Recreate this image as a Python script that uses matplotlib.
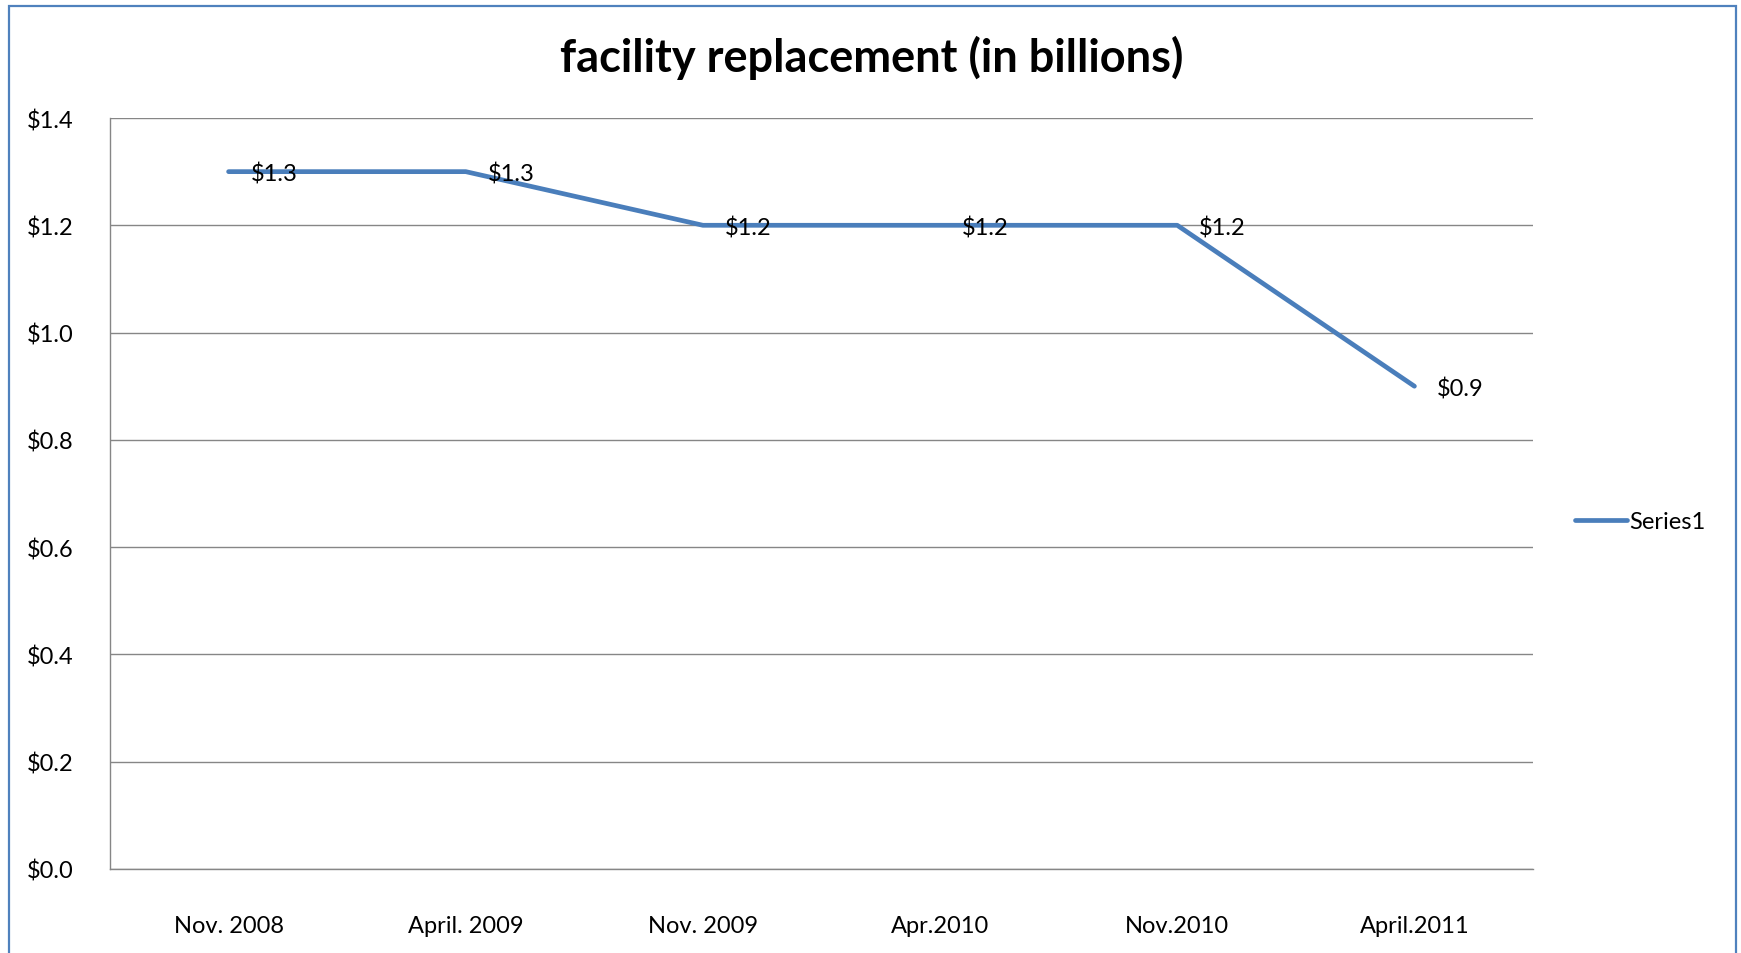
import matplotlib
matplotlib.use('Agg')
import matplotlib.pyplot as plt
from matplotlib.patches import Rectangle

categories = ['Nov. 2008', 'April. 2009', 'Nov. 2009', 'Apr.2010', 'Nov.2010', 'April.2011']
values = [1.3, 1.3, 1.2, 1.2, 1.2, 0.9]
y_ticks = [0.0, 0.2, 0.4, 0.6, 0.8, 1.0, 1.2, 1.4]
series_name = 'Series1'
title = 'facility replacement (in billions)'

line_color = '#4A7EBB'
grid_color = '#868686'

plt.rcParams['font.family'] = ['Lato', 'DejaVu Sans']

W, H = 1741, 954
fig = plt.figure(figsize=(W / 100, H / 100), dpi=100)

# blue frame around the chart
fig.patches.append(Rectangle((9 / W, -0.01), (1736 - 9) / W, 1 - 7 / H + 0.01,
                             transform=fig.transFigure, fill=False,
                             edgecolor='#4F81BD', linewidth=1.6))

ax = fig.add_axes([110 / W, (H - 870) / H, 1423 / W, 751 / H])

x = list(range(len(categories)))
ax.plot(x, values, color=line_color, linewidth=3.4, solid_capstyle='round',
        label=series_name)

for xi, v in zip(x, values):
    ax.annotate('$' + format(v, '.1f'), (xi, v), xytext=(22, -2),
                textcoords='offset pixels', va='center', ha='left', fontsize=17)

ax.set_xlim(-0.5, len(categories) - 0.5)
ax.set_ylim(0, 1.4)
ax.set_yticks(y_ticks)
ax.set_yticklabels(['$' + format(t, '.1f') for t in y_ticks])
ax.set_xticks(x)
ax.set_xticklabels(categories)

ax.grid(axis='y', color=grid_color, linewidth=1.0)
ax.set_axisbelow(True)
for s in ['top', 'right']:
    ax.spines[s].set_visible(False)
for s in ['left', 'bottom']:
    ax.spines[s].set_color(grid_color)
    ax.spines[s].set_linewidth(1.0)
ax.tick_params(axis='both', length=0, labelsize=17)
ax.tick_params(axis='y', pad=26)
ax.tick_params(axis='x', pad=33)

fig.text(872 / W, 1 - 58 / H, title, ha='center', va='center',
         fontsize=32.5, fontweight='bold')

leg = fig.legend(loc='center left', bbox_to_anchor=(1554 / W, 1 - 523 / H),
                 frameon=False, fontsize=17, handlelength=2.2, handletextpad=0.1)

fig.savefig('out.png', dpi=100)
